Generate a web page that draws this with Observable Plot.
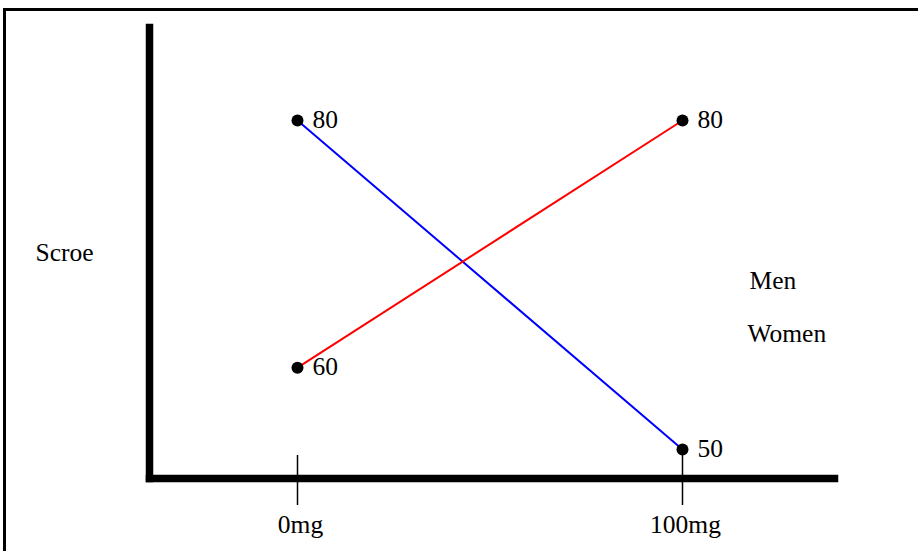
<!DOCTYPE html>
<html>
<head>
<meta charset="utf-8">
<script src="https://cdn.jsdelivr.net/npm/d3@7"></script>
<script src="https://cdn.jsdelivr.net/npm/@observablehq/plot@0.6"></script>
<style>
  html, body { margin: 0; padding: 0; background: #fff; overflow: hidden; width: 918px; height: 551px; }
  #wrap { position: relative; width: 918px; height: 551px; overflow: hidden; }
  #border { position: absolute; left: 3px; top: 8px; width: 960px; height: 600px; border: 3px solid #000; box-sizing: border-box; pointer-events: none; }
  #chart { position: absolute; left: 0; top: 0; }
</style>
</head>
<body>
<div id="wrap"><div id="border"></div><div id="chart"></div></div>
<script>
// Data
const doses = [0, 100];
const doseLabels = ["0mg", "100mg"];
const series = ["Men", "Women"];
const menScores = [80, 50];
const womenScores = [60, 80];
const yLabel = "Scroe";

const rows = [];
doses.forEach((d, i) => rows.push({series: "Men", dose: d, score: menScores[i]}));
doses.forEach((d, i) => rows.push({series: "Women", dose: d, score: womenScores[i]}));

const font = "'Liberation Serif', 'Times New Roman', serif";
const fs = 25.5;

const chart = Plot.plot({
  width: 918,
  height: 551,
  marginLeft: 149,
  marginTop: 27,
  marginBottom: 73,
  marginRight: 84,
  style: {fontFamily: font, background: "transparent", overflow: "visible"},
  x: {domain: [0, 100], range: [297, 682], axis: null},
  y: {type: "pow", exponent: 2.7, domain: [50, 80], range: [449, 120], axis: null},
  color: {domain: series, range: ["#0000ff", "#ff0000"]},
  marks: [
    Plot.frame({anchor: "left", stroke: "#000", strokeWidth: 7.5, strokeLinecap: "square"}),
    Plot.frame({anchor: "bottom", stroke: "#000", strokeWidth: 7.5, strokeLinecap: "square"}),
    Plot.ruleX(doses, {x: d => d, stroke: "#000", strokeWidth: 1.5, insetTop: 428, insetBottom: -27}),
    Plot.axisX(doses, {tickSize: 0, tickPadding: 36, tickFormat: d => doseLabels[doses.indexOf(d)], fontSize: fs, fill: "#000", label: null, dx: 3}),
    Plot.line(rows, {x: "dose", y: "score", z: "series", stroke: "series", strokeWidth: 2}),
    Plot.dot(rows, {x: "dose", y: "score", r: 6, fill: "#000", stroke: "none"}),
    Plot.text(rows, {x: "dose", y: "score", text: d => String(d.score), dx: 15, dy: -1, textAnchor: "start", fontSize: fs, fill: "#000"}),
    Plot.text([yLabel], {frameAnchor: "left", text: d => d, dx: -114, textAnchor: "start", fontSize: fs, fill: "#000"}),
    Plot.text([series[0]], {frameAnchor: "top-left", text: d => d, dx: 600, dy: 253, textAnchor: "start", lineAnchor: "middle", fontSize: fs, fill: "#000"}),
    Plot.text([series[1]], {frameAnchor: "top-left", text: d => d, dx: 598, dy: 306, textAnchor: "start", lineAnchor: "middle", fontSize: fs, fill: "#000"})
  ]
});
document.getElementById("chart").appendChild(chart);
</script>
</body>
</html>
